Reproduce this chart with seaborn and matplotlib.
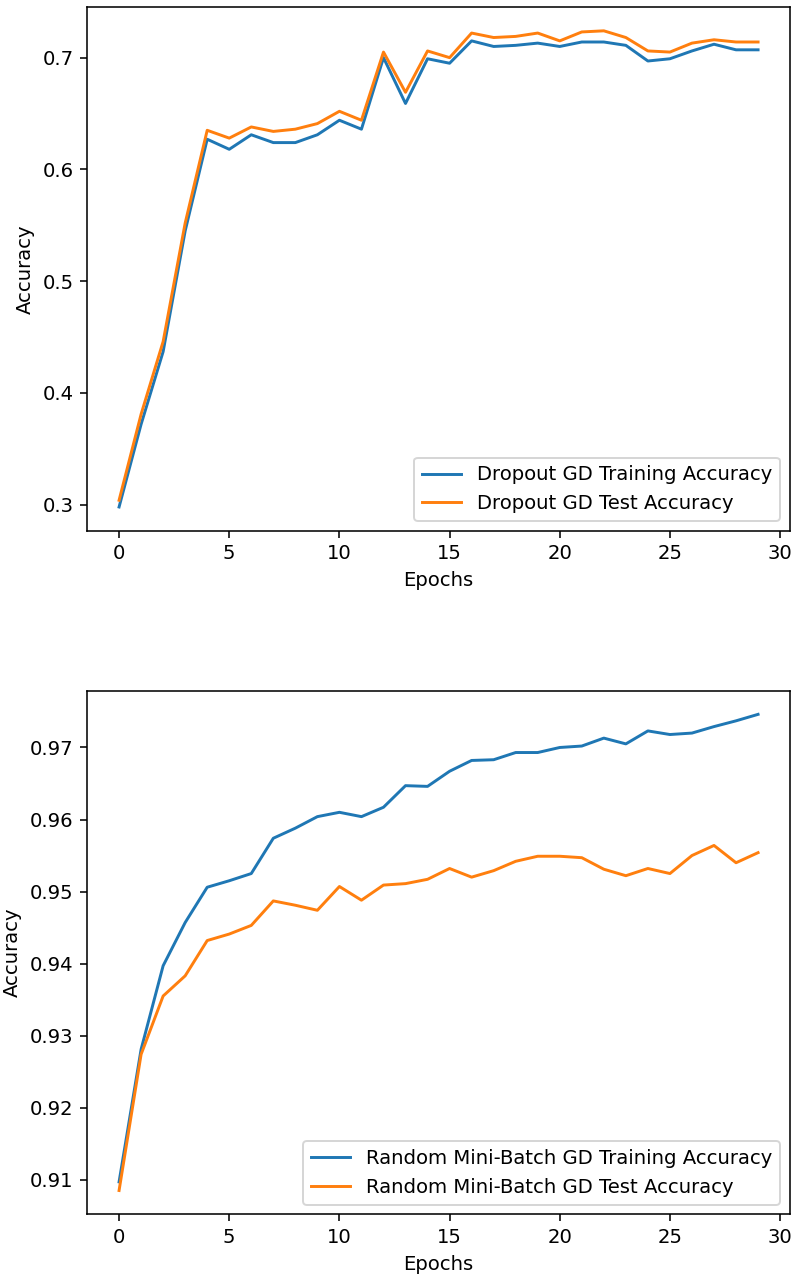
import pandas as pd
import seaborn as sns
import matplotlib.pyplot as plt

epochs = list(range(30))

# Dropout GD
dropout_train = [0.298, 0.372, 0.437, 0.545, 0.627, 0.618, 0.631, 0.624, 0.624, 0.631,
                 0.644, 0.636, 0.700, 0.659, 0.699, 0.695, 0.715, 0.710, 0.711, 0.713,
                 0.710, 0.714, 0.714, 0.711, 0.697, 0.699, 0.706, 0.712, 0.707, 0.707]
dropout_test = [0.304, 0.381, 0.446, 0.552, 0.635, 0.628, 0.638, 0.634, 0.636, 0.641,
                0.652, 0.644, 0.705, 0.669, 0.706, 0.700, 0.722, 0.718, 0.719, 0.722,
                0.715, 0.723, 0.724, 0.718, 0.706, 0.705, 0.713, 0.716, 0.714, 0.714]

# Random mini-batch GD
minibatch_train = [0.9097, 0.9281, 0.9397, 0.9457, 0.9506, 0.9515, 0.9525, 0.9574, 0.9588, 0.9604,
                   0.9610, 0.9604, 0.9617, 0.9647, 0.9646, 0.9667, 0.9682, 0.9683, 0.9693, 0.9693,
                   0.9700, 0.9702, 0.9713, 0.9705, 0.9723, 0.9718, 0.9720, 0.9729, 0.9737, 0.9746]
minibatch_test = [0.9085, 0.9274, 0.9355, 0.9383, 0.9432, 0.9441, 0.9453, 0.9487, 0.9481, 0.9474,
                  0.9507, 0.9488, 0.9509, 0.9511, 0.9517, 0.9532, 0.9520, 0.9529, 0.9542, 0.9549,
                  0.9549, 0.9547, 0.9531, 0.9522, 0.9532, 0.9525, 0.9550, 0.9564, 0.9540, 0.9554]

# reference looks like a default figure rendered at ~141 dpi
dpi = 141
fig, axes = plt.subplots(2, 1, figsize=(792 / dpi, 1275 / dpi), dpi=dpi)
fig.subplots_adjust(left=0.110, right=0.9975, top=0.9945, bottom=0.0476, hspace=0.305)

panels = [
    (dropout_train, dropout_test, 'Dropout GD'),
    (minibatch_train, minibatch_test, 'Random Mini-Batch GD'),
]

for ax, (train, test, name) in zip(axes, panels):
    df = pd.DataFrame({'epoch': epochs, 'train': train, 'test': test})
    sns.lineplot(data=df, x='epoch', y='train', ax=ax, color='#1f77b4',
                 label=f'{name} Training Accuracy')
    sns.lineplot(data=df, x='epoch', y='test', ax=ax, color='#ff7f0e',
                 label=f'{name} Test Accuracy')
    ax.set_xlabel('Epochs')
    ax.set_ylabel('Accuracy')
    ax.set_xticks([0, 5, 10, 15, 20, 25, 30])
    ax.legend(loc='lower right')

plt.savefig('out.png', dpi=dpi)
